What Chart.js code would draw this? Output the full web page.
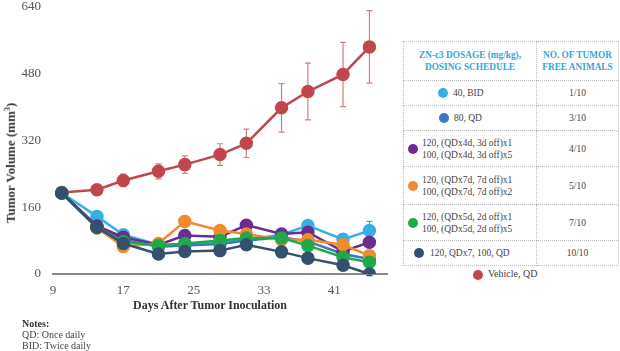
<!DOCTYPE html>
<html>
<head>
<meta charset="utf-8">
<script src="https://cdn.jsdelivr.net/npm/chart.js@4/dist/chart.umd.min.js"></script>
<style>
  html, body { margin: 0; padding: 0; background: #fff; }
  body { width: 620px; height: 351px; position: relative; overflow: hidden; font-family: "Liberation Serif", serif; color: #333; }
  #wrap { position: absolute; left: 0; top: -13px; width: 400px; height: 314px; }
  .ytitle { position: absolute; left: 11px; top: 163px; transform: translate(-50%, -50%) rotate(-90deg); font-weight: bold; font-size: 13px; white-space: nowrap; color: #333; }
  .xtitle { position: absolute; left: 210px; top: 305px; transform: translate(-50%, -50%); font-weight: bold; font-size: 12px; white-space: nowrap; color: #333; }
  .notes { position: absolute; left: 22px; top: 318px; font-size: 10px; line-height: 11px; color: #444; }
  .notes b { color: #333; }
  table.leg { position: absolute; left: 403px; top: 41px; width: 216px; border-collapse: collapse; font-size: 9.5px; color: #444; }
  table.leg td { border: 1px dotted #bbb; padding: 0; line-height: 12px; }
  table.leg th { border: 1px dotted #bbb; color: #2fa8dc; font-size: 9.3px; line-height: 12px; font-weight: bold; height: 36px; }
  .dot { display: inline-block; width: 10px; height: 10px; border-radius: 50%; vertical-align: middle; margin-right: 5px; }
  .c2 { text-align: center; }
  .cell { display: flex; align-items: center; }
  .veh { position: absolute; left: 473px; top: 268px; font-size: 10px; color: #444; white-space: nowrap; }
</style>
</head>
<body>
<div id="wrap"><canvas id="chart"></canvas></div>
<div class="ytitle">Tumor Volume (mm<sup style="font-size:8px">3</sup>)</div>
<div class="xtitle">Days After Tumor Inoculation</div>
<div class="notes"><b>Notes:</b><br>QD: Once daily<br>BID: Twice daily</div>

<table class="leg">
  <tr><th style="width:130px">ZN-c3 DOSAGE (mg/kg),<br>DOSING SCHEDULE</th><th>NO. OF TUMOR<br>FREE ANIMALS</th></tr>
  <tr style="height:25px"><td><div class="cell" style="padding-left:34px"><span class="dot" style="background:#34b1e4"></span>40, BID</div></td><td class="c2">1/10</td></tr>
  <tr style="height:25px"><td><div class="cell" style="padding-left:35px"><span class="dot" style="background:#3a78c0"></span>80, QD</div></td><td class="c2">3/10</td></tr>
  <tr style="height:36px"><td><div class="cell" style="padding-left:4px"><span class="dot" style="background:#6a2d8f;margin-right:4px"></span><span>120, (QDx4d, 3d off)x1<br>100, (QDx4d, 3d off)x5</span></div></td><td class="c2">4/10</td></tr>
  <tr style="height:38px"><td><div class="cell" style="padding-left:4px"><span class="dot" style="background:#f28a2e;margin-right:4px"></span><span>120, (QDx7d, 7d off)x1<br>100, (QDx7d, 7d off)x2</span></div></td><td class="c2">5/10</td></tr>
  <tr style="height:36px"><td><div class="cell" style="padding-left:4px"><span class="dot" style="background:#20a94c;margin-right:4px"></span><span>120, (QDx5d, 2d off)x1<br>100, (QDx5d, 2d off)x5</span></div></td><td class="c2">7/10</td></tr>
  <tr style="height:25px"><td><div class="cell" style="padding-left:10px"><span class="dot" style="background:#34506e;margin-right:6px"></span>120, QDx7, 100, QD</div></td><td class="c2">10/10</td></tr>
</table>
<div class="veh"><span class="dot" style="background:#c2474d"></span>Vehicle, QD</div>

<script>
// days after tumor inoculation
var days = [10, 14, 17, 21, 24, 28, 31, 35, 38, 42, 45];
var xTicks = [9, 17, 25, 33, 41];

// mean tumor volume (mm3)
var vehicle = [195, 202, 224, 246, 262, 286, 313, 398, 437, 478, 544];
var bid40   = [194, 138, 94, 70, 70, 75, 82, 94, 116, 83, 104];
var qd80    = [194, 114, 82, 65, 68, 72, 80, 88, 78, 48, 36];
var qdx4d   = [194, 115, 88, 70, 92, 89, 117, 96, 100, 54, 76];
var qdx7d   = [194, 110, 66, 73, 126, 104, 96, 82, 82, 70, 44];
var qdx5d   = [194, 111, 77, 68, 73, 80, 86, 86, 68, 40, 28];
var qdx7    = [194, 112, 73, 48, 54, 56, 70, 53, 38, 21, 0];

// error (+/-)
var vehicleErr = [6, 12, 15, 18, 21, 26, 34, 58, 68, 77, 87];
var bid40Err   = [4, 8, 6, 5, 5, 5, 6, 8, 9, 14, 22];
var qd80Err    = [4, 6, 5, 5, 5, 5, 6, 6, 7, 8, 8];
var qdx4dErr   = [4, 6, 6, 5, 6, 6, 7, 7, 8, 9, 9];
var qdx7dErr   = [4, 6, 5, 5, 10, 8, 7, 7, 7, 8, 9];
var qdx5dErr   = [4, 6, 5, 5, 5, 5, 6, 6, 6, 7, 7];
var qdx7Err    = [4, 6, 5, 6, 6, 6, 7, 8, 12, 12, 4];

function pts(arr) {
    return arr.map(function (v, i) { return { x: days[i], y: v }; });
}

function series(label, arr, err, color, order, errColor) {
    return {
        label: label,
        data: pts(arr),
        errors: err,
        errorColor: errColor || color,
        borderColor: color,
        backgroundColor: color,
        pointBackgroundColor: color,
        pointBorderColor: color,
        borderWidth: 2.5,
        pointRadius: 5.5,
        tension: 0,
        order: order
    };
}

var errorBars = {
    id: 'errorBars',
    beforeDatasetsDraw: function (chart) {
        var ctx = chart.ctx, ys = chart.scales.y;
        chart.data.datasets.forEach(function (ds, i) {
            var meta = chart.getDatasetMeta(i);
            ctx.save();
            ctx.strokeStyle = ds.errorColor;
            ctx.lineWidth = 1.2;
            meta.data.forEach(function (p, j) {
                var e = ds.errors[j];
                if (!e) return;
                var v = ds.data[j].y;
                var t = ys.getPixelForValue(v + e), b = ys.getPixelForValue(v - e);
                ctx.beginPath();
                ctx.moveTo(p.x, t); ctx.lineTo(p.x, b);
                ctx.moveTo(p.x - 3, t); ctx.lineTo(p.x + 3, t);
                ctx.moveTo(p.x - 3, b); ctx.lineTo(p.x + 3, b);
                ctx.stroke();
            });
            ctx.restore();
        });
    }
};

var tickFont = { family: 'Liberation Serif', size: 13 };

var config = {
    type: 'line',
    data: {
        datasets: [
            series('Vehicle, QD', vehicle, vehicleErr, '#c2474d', 7, '#d27f83'),
            series('120, QDx7, 100, QD', qdx7, qdx7Err, '#34506e', 1),
            series('120, (QDx5d, 2d off)x1 / 100, (QDx5d, 2d off)x5', qdx5d, qdx5dErr, '#20a94c', 2),
            series('120, (QDx7d, 7d off)x1 / 100, (QDx7d, 7d off)x2', qdx7d, qdx7dErr, '#f28a2e', 3),
            series('120, (QDx4d, 3d off)x1 / 100, (QDx4d, 3d off)x5', qdx4d, qdx4dErr, '#6a2d8f', 4),
            series('80, QD', qd80, qd80Err, '#3a78c0', 5),
            series('40, BID', bid40, bid40Err, '#34b1e4', 6)
        ]
    },
    options: {
        responsive: true,
        maintainAspectRatio: false,
        animation: false,
        layout: { padding: { top: 6, right: 13, left: 0, bottom: 0 } },
        plugins: {
            legend: { display: false },
            tooltip: { enabled: false }
        },
        scales: {
            x: {
                type: 'linear',
                min: 9,
                max: 47,
                afterBuildTicks: function (scale) {
                    scale.ticks = xTicks.map(function (v) { return { value: v }; });
                },
                afterFit: function (scale) { scale.height = 27; },
                grid: { display: true, drawOnChartArea: false, drawTicks: false },
                border: { display: true, color: '#8a8a8a', width: 2 },
                ticks: { color: '#555', font: tickFont, padding: 9, maxRotation: 0 }
            },
            y: {
                min: 0,
                max: 640,
                afterFit: function (scale) { scale.width = 53; },
                grid: { display: false, drawTicks: false },
                border: { display: false },
                ticks: { stepSize: 160, color: '#555', font: tickFont, padding: 12 }
            }
        }
    },
    plugins: [errorBars]
};

window.onload = function () {
    var ctx = document.getElementById('chart').getContext('2d');
    window.myLine = new Chart(ctx, config);
};
</script>
</body>
</html>
